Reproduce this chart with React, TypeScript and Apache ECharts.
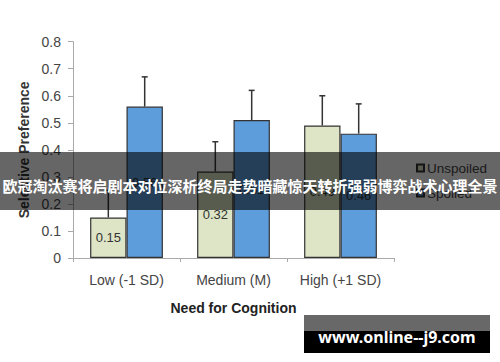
import React, { useEffect, useRef } from "react";
import * as echarts from "echarts";

const categories = ["Low (-1 SD)", "Medium (M)", "High (+1 SD)"];
const seriesNames = ["Unspoiled", "Spoiled"];
const unspoiled = [0.15, 0.32, 0.49];
const spoiled = [0.56, 0.51, 0.46];
const unspoiledErrTop = [0.25, 0.43, 0.6];
const spoiledErrTop = [0.67, 0.62, 0.57];
const yTicks = { min: 0, max: 0.8, interval: 0.1 };
const bannerText = "欧冠淘汰赛将启剧本对位深析终局走势暗藏惊天转折强弱博弈战术心理全景";
const watermarkText = "www.online--j9.com";

const CAT_GAP = 0.32;

export default function App() {
  const ref = useRef<HTMLDivElement>(null);
  useEffect(() => {
    if (!ref.current) return;
    const chart = echarts.init(ref.current, null, { renderer: "svg" });
    const errData: number[][] = [];
    categories.forEach((_, i) => {
      errData.push([i, unspoiled[i], unspoiledErrTop[i], 0]);
      errData.push([i, spoiled[i], spoiledErrTop[i], 1]);
    });
    const font = "'Liberation Sans', Arial, sans-serif";
    chart.setOption({
      animation: false,
      textStyle: { fontFamily: font },
      grid: { left: 73, right: 106, top: 41.7, bottom: 104, containLabel: false },
      legend: {
        orient: "vertical",
        left: 411,
        top: 156,
        itemWidth: 7,
        itemHeight: 7,
        itemGap: 11,
        icon: "rect",
        data: seriesNames,
        textStyle: { fontSize: 13.5, color: "#444", fontFamily: font, padding: [0, 0, 0, -2] },
      },
      xAxis: {
        type: "category",
        data: categories,
        name: "Need for Cognition",
        nameLocation: "middle",
        nameGap: 43,
        nameTextStyle: { fontSize: 14, fontWeight: "bold", color: "#222", fontFamily: font },
        axisLine: { lineStyle: { color: "#aaa", width: 1 } },
        axisTick: { show: true, length: 4, lineStyle: { color: "#aaa" } },
        axisLabel: { fontSize: 14, color: "#444", margin: 15, fontFamily: font },
      },
      yAxis: {
        type: "value",
        min: yTicks.min,
        max: yTicks.max,
        interval: yTicks.interval,
        name: "Selective Preference",
        nameLocation: "middle",
        nameRotate: 90,
        nameGap: 41,
        nameTextStyle: { fontSize: 14, fontWeight: "bold", color: "#333", fontFamily: font },
        axisLine: { show: true, lineStyle: { color: "#aaa", width: 1 } },
        axisTick: { show: true, length: 5, lineStyle: { color: "#aaa" } },
        splitLine: { show: false },
        axisLabel: {
          fontSize: 14,
          color: "#444",
          margin: 12,
          fontFamily: font,
          formatter: (v: number) => (v === 0 ? "0" : v.toFixed(1)),
        },
      },
      series: [
        {
          name: seriesNames[0],
          type: "bar",
          data: unspoiled,
          barGap: "0%",
          barCategoryGap: CAT_GAP * 100 + "%",
          itemStyle: { color: "#dde5c6", borderColor: "#333", borderWidth: 1.2 },
          label: { show: true, position: "inside", fontSize: 13, color: "#333", fontFamily: font, formatter: (p: any) => p.value.toFixed(2) },
        },
        {
          name: seriesNames[1],
          type: "bar",
          data: spoiled,
          barGap: "0%",
          barCategoryGap: CAT_GAP * 100 + "%",
          itemStyle: { color: "#5e9ddc", borderColor: "#333", borderWidth: 1.2 },
          label: { show: true, position: "inside", fontSize: 13, color: "#333", fontFamily: font, formatter: (p: any) => p.value.toFixed(2) },
        },
        {
          name: "err",
          type: "custom",
          data: errData,
          encode: { x: 0, y: [1, 2] },
          z: 5,
          renderItem: (params: any, api: any) => {
            const ci = api.value(0);
            const v = api.value(1);
            const top = api.value(2);
            const si = api.value(3);
            const band = api.size([1, 0])[0];
            const barW = (band * (1 - CAT_GAP)) / 2;
            const off = (si === 0 ? -0.5 : 0.5) * barW;
            const p0 = api.coord([ci, v]);
            const p1 = api.coord([ci, top]);
            const x = p0[0] + off;
            const style = { stroke: "#333", lineWidth: 1.5 };
            return {
              type: "group",
              children: [
                { type: "line", shape: { x1: x, y1: p0[1], x2: x, y2: p1[1] }, style },
                { type: "line", shape: { x1: x - 3, y1: p1[1], x2: x + 3, y2: p1[1] }, style },
              ],
            };
          },
        },
      ],
      graphic: [
        {
          type: "rect",
          z: 100,
          shape: { x: 0, y: 152, width: 500, height: 58 },
          style: { fill: "rgba(0,0,0,0.6)" },
        },
        {
          type: "text",
          z: 101,
          x: 250,
          y: 185,
          style: {
            text: bannerText,
            fill: "#fff",
            font: "bold 15px 'Noto Sans CJK SC', sans-serif",
            align: "center",
            verticalAlign: "middle",
          },
        },
        {
          type: "rect",
          z: 100,
          shape: { x: 304, y: 315, width: 186, height: 16 },
          style: { fill: "#686868" },
        },
        {
          type: "rect",
          z: 100,
          shape: { x: 304, y: 331, width: 186, height: 22 },
          style: { fill: "#000" },
        },
        {
          type: "text",
          z: 101,
          x: 397,
          y: 337,
          style: {
            text: watermarkText,
            fill: "#fff",
            font: "bold 16px 'Noto Sans', sans-serif",
            align: "center",
            verticalAlign: "middle",
          },
        },
      ],
    });
    return () => chart.dispose();
  }, []);
  return <div ref={ref} style={{ width: 500, height: 362, position: "absolute", left: 0, top: 0 }} />;
}
